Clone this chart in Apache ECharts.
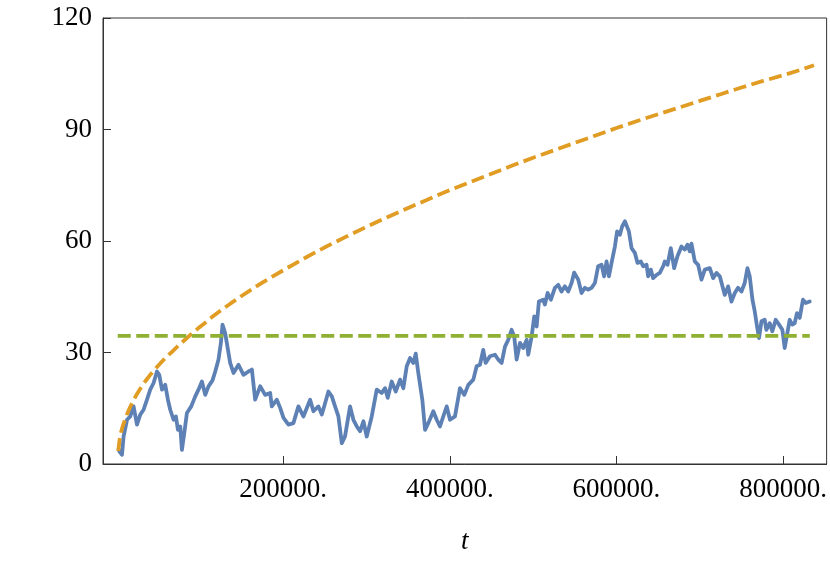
<!DOCTYPE html>
<html>
<head>
<meta charset="utf-8">
<title>walk</title>
<script src="https://cdn.jsdelivr.net/npm/echarts@6/dist/echarts.min.js"></script>
<style>
  html, body { margin: 0; padding: 0; background: #fff; }
  #myChart { width: 830px; height: 561px; }
</style>
</head>
<body>
<div id="myChart"></div>
<script>
// random walk (blue): [t, value]
let walk = [
  [2500, 4.0], [3400, 3.4], [6600, 2.5], [8500, 7.4], [12600, 11.9], [16500, 12.8], [20500, 15.5],
  [24600, 10.6], [28500, 13.3], [32500, 14.6], [36600, 17.3], [40500, 20.0], [44500, 21.8],
  [48600, 24.9], [51300, 24.0], [54600, 20.0], [58500, 21.3], [61700, 17.3], [64500, 14.6],
  [68500, 11.9], [71300, 12.8], [73700, 9.2], [76500, 10.1], [78500, 3.8], [81300, 8.3],
  [84500, 13.7], [89700, 15.5], [94500, 18.2], [98400, 20.0], [102500, 22.2], [106500, 18.6],
  [110400, 20.9], [115200, 22.5], [118500, 24.9], [122400, 28.1], [125300, 32.6], [127200, 37.5],
  [130400, 35.2], [134400, 29.9], [136400, 27.2], [140400, 24.5], [146400, 26.7], [152400, 24.0],
  [158400, 24.9], [162500, 25.4], [166400, 17.3], [172400, 20.9], [178400, 18.6], [184400, 19.1],
  [186400, 15.5], [192400, 17.3], [196400, 15.1], [200400, 12.4], [206400, 10.6], [212300, 11.0],
  [218300, 15.5], [224300, 12.8], [232400, 17.3], [236300, 14.2], [242300, 15.5], [246400, 13.3],
  [250400, 16.4], [254300, 19.5], [258400, 18.2], [262300, 15.5], [266300, 12.8], [270400, 5.6],
  [274300, 7.5], [280300, 15.5], [284300, 11.9], [288400, 10.1], [292300, 8.8], [296300, 11.5],
  [300300, 7.4], [306300, 12.8], [312300, 20.0], [318300, 19.1], [322300, 20.4], [325500, 17.8],
  [330300, 22.2], [335100, 19.5], [340300, 22.7], [344200, 20.4], [348300, 26.3], [352300, 28.5],
  [356200, 27.2], [359100, 29.7], [362200, 24.5], [367000, 17.3], [370300, 9.2], [374200, 11.0],
  [380200, 14.2], [384300, 11.9], [388200, 10.1], [392200, 12.8], [396300, 15.5], [400200, 11.9],
  [406200, 12.8], [412200, 20.4], [417400, 18.6], [422200, 21.3], [428200, 22.7], [432200, 26.3],
  [436200, 26.7], [440100, 30.7], [443000, 27.2], [448200, 29.0], [454200, 29.4], [458100, 28.1],
  [462200, 27.2], [466200, 31.6], [470100, 33.4], [474200, 36.1], [477300, 34.3], [480200, 28.1],
  [484200, 32.6], [488100, 31.2], [492200, 33.4], [494100, 29.4], [498200, 34.3], [501300, 39.7],
  [504200, 37.0], [506900, 43.7], [512100, 44.2], [514100, 42.9], [517400, 46.0], [521300, 44.2],
  [526100, 47.4], [530100, 48.2], [534100, 46.4], [538100, 47.8], [542100, 46.4], [546100, 48.7],
  [549300, 51.5], [554100, 49.6], [558100, 46.0], [562100, 47.4], [566100, 46.9], [570100, 47.4],
  [574100, 48.7], [578000, 53.2], [582100, 53.6], [585200, 50.5], [588100, 54.5], [590900, 50.5],
  [594100, 54.1], [598100, 58.5], [600800, 62.6], [604100, 61.7], [606800, 63.9], [610100, 65.3],
  [612100, 65.7], [614900, 62.6], [618100, 58.1], [622100, 56.8], [625300, 54.1], [629300, 54.5],
  [632000, 53.2], [636100, 53.6], [638000, 50.5], [641200, 52.3], [644000, 50.0], [648100, 50.9],
  [652000, 51.4], [656000, 53.2], [658000, 54.5], [661300, 53.6], [665200, 58.1], [669200, 52.7],
  [673200, 55.9], [678000, 58.5], [682000, 57.7], [685200, 59.0], [688000, 57.2], [690000, 59.3],
  [694000, 54.5], [698000, 53.6], [702000, 49.6], [706000, 52.3], [712000, 52.7], [716000, 50.0],
  [720000, 51.4], [724000, 50.5], [727200, 47.8], [730000, 45.5], [734000, 47.8], [738000, 43.7],
  [742000, 46.0], [745900, 47.4], [750000, 46.4], [753900, 48.7], [757200, 52.7], [759900, 50.5],
  [763200, 44.2], [765900, 41.1], [768700, 37.0], [771100, 33.9], [774000, 38.4], [777900, 38.8],
  [779900, 36.1], [783900, 37.9], [787100, 35.7], [791100, 38.8], [795100, 37.5], [799100, 36.1],
  [801900, 31.2], [804700, 34.8], [807900, 38.8], [811100, 37.5], [813900, 37.9], [816600, 40.6],
  [819900, 39.3], [823800, 44.2], [827100, 43.3], [831900, 43.7]
];

// upper dashed curve (orange)
let upper = [
  [2200, 3.5], [3500, 6.2], [5000, 8.2], [7500, 10.2], [10000, 11.8], [13000, 13.6], [16500, 15.4],
  [20500, 17.2], [25000, 19.0], [30000, 20.8], [35000, 22.4], [40500, 24.0], [46500, 25.6],
  [53000, 27.2], [60000, 28.8], [67500, 30.4], [75000, 32.0], [82500, 33.5], [90000, 35.0],
  [98000, 36.5], [106500, 38.0], [115000, 39.6], [125000, 41.3], [137000, 43.2], [150000, 45.2],
  [162500, 47.0], [175000, 48.8], [187500, 50.5], [200000, 52.1], [225000, 55.3], [250000, 58.3],
  [275000, 61.1], [300000, 63.8], [325000, 66.4], [350000, 68.9], [375000, 71.3], [400000, 73.7],
  [425000, 75.9], [450000, 78.1], [475000, 80.3], [500000, 82.4], [525000, 84.4], [550000, 86.4],
  [575000, 88.4], [600000, 90.4], [625000, 92.3], [650000, 94.1], [675000, 95.9], [700000, 97.7],
  [725000, 99.5], [750000, 101.3], [775000, 103.0], [800000, 104.6], [820000, 106.0], [837000, 107.3]
];

// flat dashed line (green)
let level = [[1500, 34.5], [832000, 34.5]];

let xTicks = [200000, 400000, 600000, 800000];
let yMin = 0, yMax = 120, yStep = 30;

let myChart = echarts.init(document.getElementById('myChart'));
let fontName = 'Liberation Serif';
let frameColor = '#333';

myChart.setOption({
  animation: false,
  grid: {
    left: 103,
    right: 3,
    top: 18,
    bottom: 97,
    show: true,
    borderColor: frameColor,
    borderWidth: 1
  },
  xAxis: {
    type: 'value',
    min: -16200,
    max: 852200,
    name: 't',
    nameLocation: 'middle',
    nameGap: 64,
    nameTextStyle: { fontFamily: fontName, fontStyle: 'italic', fontSize: 27, color: '#000' },
    splitLine: { show: false },
    axisLine: { onZero: false, lineStyle: { color: frameColor, width: 1 } },
    axisTick: { inside: true, length: 8, customValues: xTicks, lineStyle: { color: frameColor } },
    axisLabel: {
      customValues: xTicks,
      margin: 12,
      fontFamily: fontName,
      fontSize: 27,
      color: '#000',
      formatter: function (v) { return v + '.'; }
    }
  },
  yAxis: {
    type: 'value',
    min: yMin,
    max: yMax,
    interval: yStep,
    splitLine: { show: false },
    axisLine: { show: true, onZero: false, lineStyle: { color: frameColor, width: 1 } },
    axisTick: { show: true, inside: true, length: 8, lineStyle: { color: frameColor } },
    axisLabel: { margin: 11, fontFamily: fontName, fontSize: 27, color: '#000' }
  },
  series: [
    {
      name: 'walk',
      type: 'line',
      data: walk,
      showSymbol: false,
      lineStyle: { color: '#5E81B5', width: 3.8, join: 'round', cap: 'round' }
    },
    {
      name: 'upper',
      type: 'line',
      data: upper,
      showSymbol: false,
      lineStyle: { color: '#E19C24', width: 3.8, type: [13, 5.5] }
    },
    {
      name: 'level',
      type: 'line',
      data: level,
      showSymbol: false,
      lineStyle: { color: '#8FB032', width: 3.8, type: [13, 5.5] }
    }
  ]
});
</script>
</body>
</html>
